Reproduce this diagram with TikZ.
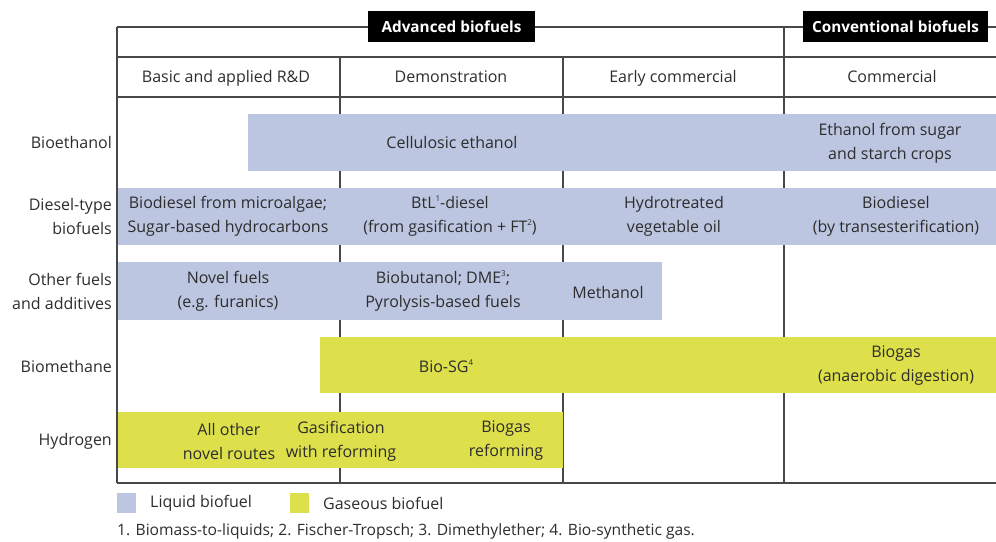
\documentclass[tikz,border=0pt]{standalone}
\usepackage{fontspec}
\setmainfont{Open Sans}
\definecolor{liq}{RGB}{188,198,225}
\definecolor{gas}{RGB}{221,224,74}
\definecolor{ln}{RGB}{72,72,72}
\definecolor{tx}{RGB}{45,45,45}
\newcommand{\mysups}[1]{\raisebox{0.75ex}{\fontsize{8}{8}\selectfont #1}}
\begin{document}
\begin{tikzpicture}[x=1pt,y=-1pt,
  grid/.style={draw=ln, line width=1.8pt},
  bar/.style={inner sep=0pt, outer sep=0pt, anchor=north west, draw=none},
  liqbar/.style={bar, fill=liq},
  gasbar/.style={bar, fill=gas},
  txt/.style={text=tx, align=center, inner sep=0pt, font=\fontsize{16}{24}\selectfont},
  colhead/.style={txt, anchor=base},
  rowlab/.style={txt, align=right, anchor=east},
  headbox/.style={fill=black, text=white, inner sep=0pt, minimum height=31pt, font=\bfseries\fontsize{15.3}{18}\selectfont},
  legsq/.style={bar, minimum width=19pt, minimum height=20pt},
  legtxt/.style={txt, anchor=west}]
\useasboundingbox (0,0) rectangle (996,541);
% grid lines
\draw[grid] (117,27) -- (996,27);
\draw[grid] (117,57) -- (996,57);
\draw[grid] (117,97) -- (996,97);
\draw[grid] (117,483) -- (996,483);
\draw[grid] (340,57) -- (340,483);
\draw[grid] (563,57) -- (563,483);
\draw[grid] (784,27) -- (784,483);
% header boxes
\node[headbox, minimum width=167pt] (adv) at (451.5,26.5) {Advanced biofuels};
\node[headbox, minimum width=185pt] (conv) at (895.5,26.5) {Conventional biofuels};
% column headers
\node[colhead] (c1) at (226,82.5) {Basic and applied R\&D};
\node[colhead] (c2) at (451,82.5) {Demonstration};
\node[colhead] (c3) at (673,82.5) {Early commercial};
\node[colhead] (c4) at (892,82.5) {Commercial};
% bars
\node[liqbar, minimum width=748pt, minimum height=57pt] (beth) at (248,114) {};
\node[liqbar, minimum width=879pt, minimum height=57pt] (bdsl) at (117,188) {};
\node[liqbar, minimum width=545pt, minimum height=58pt] (both) at (117,262) {};
\node[gasbar, minimum width=676pt, minimum height=56pt] (bmth) at (320,337) {};
\node[gasbar, minimum width=446pt, minimum height=56pt] (bhyd) at (117,412) {};
\draw[grid] (117,27) -- (117,483);
% row labels
\node[rowlab] (r1) at (112,142) {Bioethanol};
\node[rowlab] (r2) at (112,216) {Diesel-type\\biofuels};
\node[rowlab] (r3) at (112,291) {Other fuels\\and additives};
\node[rowlab] (r4) at (112,366) {Biomethane};
\node[rowlab, anchor=base east] (r5) at (112,445) {Hydrogen};
% bar texts
\node[txt] (t1) at (452,142) {Cellulosic ethanol};
\node[txt] (t2) at (890,143) {Ethanol from sugar\\and starch crops};
\node[txt] (t3) at (228,216) {Biodiesel from microalgae;\\Sugar-based hydrocarbons};
\node[txt] (t4) at (450,216) {BtL\mysups{1}-diesel\\(from gasification + FT\mysups{2})};
\node[txt] (t5) at (674,216) {Hydrotreated\\vegetable oil};
\node[txt] (t6) at (896,216) {Biodiesel\\(by transesterification)};
\node[txt] (t7) at (228,291) {Novel fuels\\(e.g. furanics)};
\node[txt] (t8) at (443,291) {Biobutanol; DME\mysups{3};\\Pyrolysis-based fuels};
\node[txt] (t9) at (608,292) {Methanol};
\node[txt] (t10) at (446,366) {Bio-SG\mysups{4}};
\node[txt] (t11) at (896,366) {Biogas\\(anaerobic digestion)};
\node[txt] (t12) at (229,441) {All other\\novel routes};
\node[txt] (t13) at (341,441) {Gasification\\with reforming};
\node[txt] (t14) at (506,441) {Biogas\\reforming};
% legend
\node[legsq, fill=liq] (lq) at (117,493) {};
\node[legtxt] (lqt) at (150,503) {Liquid biofuel};
\node[legsq, fill=gas] (lg) at (290,493) {};
\node[legtxt] (lgt) at (323,503) {Gaseous biofuel};
\node[txt, anchor=west, font=\fontsize{15.6}{18}\selectfont] (fn) at (117,531) {1. Biomass-to-liquids; 2. Fischer-Tropsch; 3. Dimethylether; 4. Bio-synthetic gas.};
\end{tikzpicture}
\end{document}
